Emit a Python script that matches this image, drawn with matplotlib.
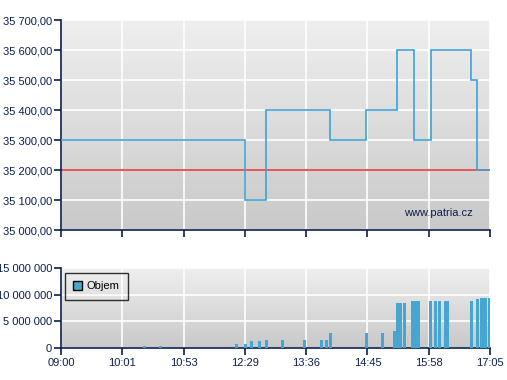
import numpy as np
import matplotlib.pyplot as plt
from matplotlib.patches import Patch

plt.rcParams['font.family'] = ['Liberation Sans', 'DejaVu Sans']

# x axis is trade-indexed: tick positions are 0..7
tick_labels = ['09:00', '10:01', '10:53', '12:29', '13:36', '14:45', '15:58', '17:05']

# price steps: edges of each flat segment and its level
step_edges = [0, 3.0, 3.35, 4.39, 4.98, 5.49, 5.76, 6.04, 6.69, 6.79, 7.0]
step_prices = [35300, 35100, 35400, 35300, 35400, 35600, 35300, 35600, 35500, 35200]
ref_price = 35200

# volume bars (positions in tick units, volume in shares)
vol_x = [1.362, 1.623, 2.863, 3.010, 3.108, 3.238, 3.352, 3.613, 3.972, 4.250,
         4.331, 4.396, 4.984, 5.245, 5.440, 5.489, 5.538, 5.604, 5.734, 5.783,
         5.832, 6.028, 6.109, 6.175, 6.272, 6.305, 6.697, 6.794, 6.860, 6.909,
         6.933, 6.990]
vol = [0.4, 0.4, 0.75, 0.75, 1.3, 1.3, 1.5, 1.5, 1.5, 1.5,
       1.5, 2.8, 2.8, 2.8, 3.2, 8.5, 8.5, 8.5, 8.8, 8.8,
       8.8, 8.8, 8.8, 8.8, 8.8, 8.8, 8.8, 9.2, 9.4, 9.4,
       9.4, 9.4]
vol = [v * 1e6 for v in vol]

navy = '#0b1f4e'
blue = '#3ea3d6'
barblue = '#47a6cf'
fs = 8


def fmt_price(v):
    s = f'{v:,.2f}'
    return s.replace(',', ' ').replace('.', ',')


def fmt_vol(v):
    return f'{int(v):,}'.replace(',', ' ')


def style(ax):
    grad = np.linspace(0, 1, 256).reshape(-1, 1)
    ax.imshow(grad, extent=[0, 1, 0, 1], transform=ax.transAxes, aspect='auto',
              cmap=plt.matplotlib.colors.LinearSegmentedColormap.from_list('g', ['#c9c9c9', '#efefef']),
              origin='lower', zorder=0)
    ax.grid(True, color='white', linewidth=1.2, zorder=1)
    for s in ['top', 'right']:
        ax.spines[s].set_visible(False)
    for s in ['left', 'bottom']:
        ax.spines[s].set_color(navy)
        ax.spines[s].set_linewidth(1.2)
    ax.tick_params(colors=navy, labelcolor=navy, length=5, width=1.2, labelsize=fs, pad=1.5)
    ax.set_xlim(0, 7)
    ax.set_xticks(range(8))


fig = plt.figure(figsize=(5.07, 3.80), dpi=100)
ax1 = fig.add_axes([61 / 507, 1 - 230 / 380, 429 / 507, 210 / 380])
ax2 = fig.add_axes([61 / 507, 1 - 348 / 380, 429 / 507, 80 / 380])

style(ax1)
ax1.set_ylim(35000, 35700)
ax1.set_yticks(range(35000, 35701, 100))
ax1.set_yticklabels([fmt_price(v) for v in range(35000, 35701, 100)])
ax1.set_xticklabels([])
ax1.axhline(ref_price, color='#e8262a', linewidth=1.1, zorder=2)
ax1.stairs(step_prices, step_edges, color=blue, linewidth=1.2, baseline=None, zorder=3)
ax1.text(0.960, 0.067, 'www.patria.cz', transform=ax1.transAxes, ha='right', va='baseline',
         color=navy, fontsize=fs)

style(ax2)
ax2.set_ylim(0, 15e6)
ax2.set_yticks([0, 5e6, 10e6, 15e6])
ax2.set_yticklabels([fmt_vol(v) for v in [0, 5e6, 10e6, 15e6]])
ax2.set_xticklabels(tick_labels)
ax2.tick_params(axis='x', pad=2.5)
ax2.bar(vol_x, vol, width=0.052, color=barblue, zorder=3)
leg = ax2.legend(handles=[Patch(facecolor=barblue, edgecolor='black', label='Objem')],
                 loc='upper left', bbox_to_anchor=(0.009, 0.94), borderaxespad=0,
                 frameon=True, fancybox=False, fontsize=fs, handlelength=0.8,
                 handleheight=0.8, borderpad=0.75, handletextpad=0.4)
leg.get_frame().set_edgecolor('black')
leg.get_frame().set_facecolor('none')
leg.get_frame().set_linewidth(1)

fig.savefig('out.png', dpi=100)
